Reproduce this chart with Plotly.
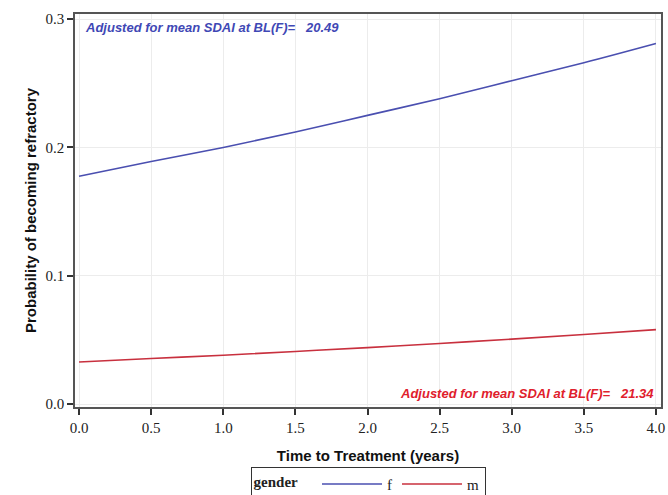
import plotly.graph_objects as go

years = [0.0, 0.5, 1.0, 1.5, 2.0, 2.5, 3.0, 3.5, 4.0]
prob_f = [0.1775, 0.189, 0.200, 0.212, 0.225, 0.238, 0.252, 0.266, 0.281]
prob_m = [0.0328, 0.0355, 0.038, 0.041, 0.044, 0.0472, 0.0506, 0.0542, 0.058]
x_ticks = [0.0, 0.5, 1.0, 1.5, 2.0, 2.5, 3.0, 3.5, 4.0]
y_ticks = [0.0, 0.1, 0.2, 0.3]
note_f = "Adjusted for mean SDAI at BL(F)=&nbsp;&nbsp;&nbsp;20.49"
note_m = "Adjusted for mean SDAI at BL(F)=&nbsp;&nbsp;&nbsp;21.34"

BLUE = "#4a4fb0"
RED = "#c8303e"

fig = go.Figure()
fig.add_trace(go.Scatter(x=years, y=prob_f, mode="lines", name="f",
                         line=dict(color=BLUE, width=1.6, shape="spline")))
fig.add_trace(go.Scatter(x=years, y=prob_m, mode="lines", name="m",
                         line=dict(color=RED, width=1.6, shape="spline")))

fig.add_annotation(x=0, y=1, xref="paper", yref="paper", text=f"<b><i>{note_f}</i></b>",
                   showarrow=False, xanchor="left", yanchor="top", xshift=8, yshift=-4,
                   font=dict(family="Liberation Sans, Arial", size=13, color="#3f48b5"))
fig.add_annotation(x=1, y=0, xref="paper", yref="paper", text=f"<b><i>{note_m}</i></b>",
                   showarrow=False, xanchor="right", yanchor="bottom", xshift=-5, yshift=4,
                   font=dict(family="Liberation Sans, Arial", size=13, color="#e0202c"))

fig.update_layout(
    width=668, height=495,
    margin=dict(l=75, r=7, t=14, b=88, autoexpand=False),
    paper_bgcolor="white", plot_bgcolor="white",
    font=dict(family="Liberation Serif, Times New Roman", size=15, color="#222"),
    showlegend=True,
    legend=dict(orientation="h", x=0.551, xanchor="center", xref="container",
                y=-0.152, yanchor="top", yref="paper",
                title=dict(text="<b>gender</b>&nbsp;&nbsp;&nbsp;", side="left", font=dict(size=15)),
                bordercolor="#333", borderwidth=1, bgcolor="white",
                font=dict(family="Liberation Serif, Times New Roman", size=15),
                itemwidth=60, tracegroupgap=0),
    xaxis=dict(range=[-0.028, 4.035], tickvals=x_ticks,
               ticktext=[f"{v:.1f}" for v in x_ticks],
               showgrid=True, gridcolor="#ececec", gridwidth=1,
               ticks="outside", ticklen=6, tickcolor="#333", tickwidth=1.5,
               ticklabeloverflow="allow", automargin=False,
               showline=True, linecolor="#555", linewidth=1.5, mirror=True,
               zeroline=False,
               title=dict(text="<b>Time to Treatment (years)</b>", standoff=16,
                          font=dict(family="Liberation Sans, Arial", size=15, color="#111"))),
    yaxis=dict(range=[-0.0023, 0.304], tickvals=y_ticks,
               ticktext=[f"{v:.1f}" for v in y_ticks],
               showgrid=True, gridcolor="#ececec", gridwidth=1,
               ticks="outside", ticklen=6, tickcolor="#333", tickwidth=1.5,
               ticklabeloverflow="allow", automargin=False,
               showline=True, linecolor="#555", linewidth=1.5, mirror=True,
               zeroline=False,
               title=dict(text="<b>Probability of becoming refractory</b>", standoff=5,
                          font=dict(family="Liberation Sans, Arial", size=15, color="#111"))),
)

fig.write_html("out.html", config={"displayModeBar": False},
               post_script="document.body.style.margin='0';document.body.style.overflow='hidden';")
